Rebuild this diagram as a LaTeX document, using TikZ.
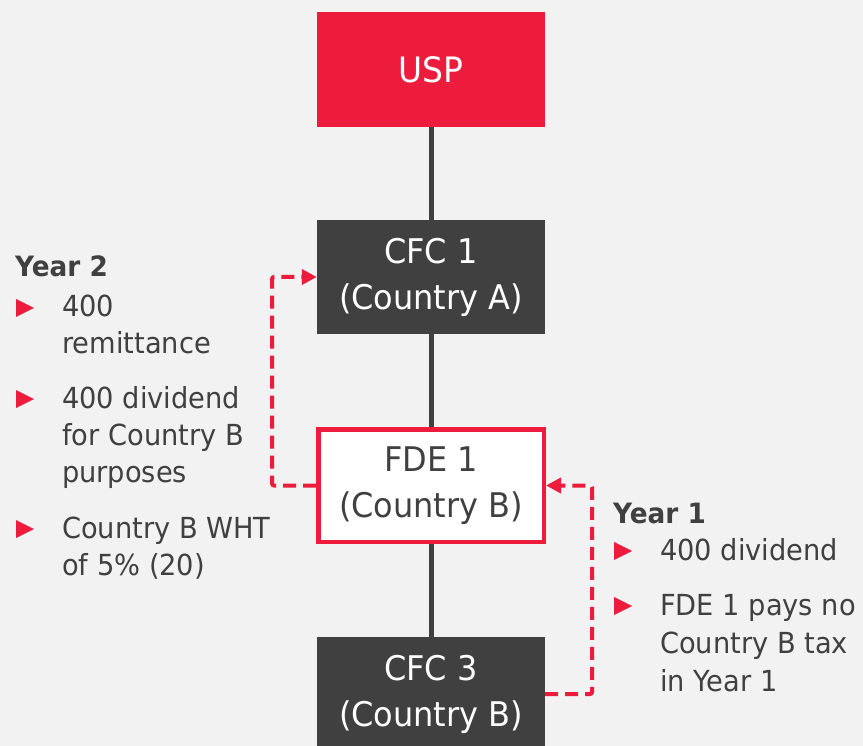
\documentclass[tikz,border=0pt]{standalone}
\usepackage{fontspec}
\setmainfont{DejaVu Sans}[FakeStretch=0.94]
\usetikzlibrary{arrows.meta}
\definecolor{brandred}{HTML}{EE1C3C}
\definecolor{darkbox}{HTML}{404040}
\definecolor{canvas}{HTML}{F2F2F2}
\definecolor{inkgray}{HTML}{404040}

% small right-pointing bullet triangle centred at (x,y)
\newcommand\bullettri[2]{\fill[brandred] (#1,#2-9) -- (#1+18,#2) -- (#1,#2+9) -- cycle;}

\begin{document}
\begin{tikzpicture}[x=1pt,y=-1pt,
  entity/.style={minimum width=228pt,minimum height=114pt,inner sep=0pt,
    align=center,font=\fontsize{34}{46}\selectfont},
  conn/.style={draw=darkbox,line width=5pt},
  flow/.style={draw=brandred,line width=4pt,dash pattern=on 13pt off 7pt,
    rounded corners=2pt,-{Triangle[length=15pt,width=15pt]}},
  txt/.style={anchor=base west,inner sep=0pt,text=inkgray,
    font=\fontsize{29}{37}\selectfont},
  hdr/.style={txt,font=\fontsize{28}{37}\selectfont\bfseries}]

\fill[canvas] (0,0) rectangle (863,746);
\useasboundingbox (0,0) rectangle (863,746);
\clip (0,0) rectangle (863,746);

% ownership chain
\node[entity,fill=brandred,text=white,minimum height=115pt,
      font=\fontsize{35}{46}\selectfont] (usp) at (431,69.5) {USP};
\node[entity,fill=darkbox,text=white] (cfc1) at (431,277) {CFC 1\\(Country A)};
\node[entity,fill=white,draw=brandred,line width=4.5pt,text=inkgray,
      minimum width=225.5pt,minimum height=112.5pt] (fde1) at (431,485.5) {FDE 1\\(Country B)};
\node[entity,fill=darkbox,text=white] (cfc3) at (431,694) {CFC 3\\(Country B)};

\draw[conn] (usp.south) -- (cfc1.north);
\draw[conn] (cfc1.south) -- (fde1.north);
\draw[conn] (fde1.south) -- (cfc3.north);

% payment flows
\coordinate (lx) at (272,0);
\coordinate (rx) at (592,0);
\draw[flow] (fde1.west) -- (fde1.west -| lx) |- (cfc1.west);
\draw[flow] (cfc3.east) -- (cfc3.east -| rx) |- (fde1.east);

% Year 2 notes
\node[hdr] (y2) at (15,277) {Year 2};
\bullettri{16}{308}
\node[txt] (l1a) at (62,317) {400};
\node[txt] (l1b) at (62,354) {remittance};
\bullettri{16}{399}
\node[txt] (l2a) at (62,408) {400 dividend};
\node[txt] (l2b) at (62,445) {for Country B};
\node[txt] (l2c) at (62,482) {purposes};
\bullettri{16}{529}
\node[txt] (l3a) at (62,538) {Country B WHT};
\node[txt] (l3b) at (62,575) {of 5\% (20)};

% Year 1 notes
\node[hdr] (y1) at (613,523) {Year 1};
\bullettri{614}{551}
\node[txt] (r1a) at (660,560) {400 dividend};
\bullettri{614}{606}
\node[txt] (r2a) at (660,615) {FDE 1 pays no};
\node[txt] (r2b) at (660,653) {Country B tax};
\node[txt] (r2c) at (660,691) {in Year 1};
\end{tikzpicture}
\end{document}
